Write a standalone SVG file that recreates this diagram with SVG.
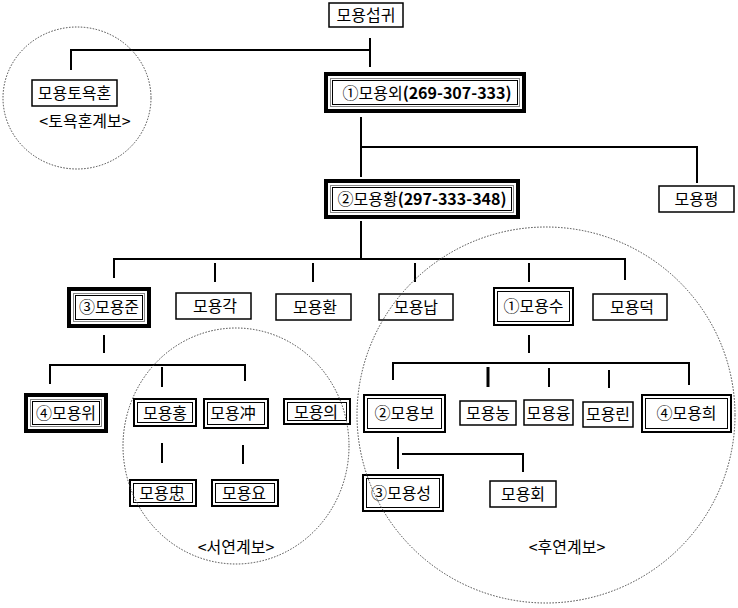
<svg xmlns="http://www.w3.org/2000/svg" width="738" height="608" viewBox="0 0 738 608">
<style>
.t{font-family:"Noto Sans CJK KR","Liberation Sans",sans-serif;font-size:16px;text-anchor:middle;fill:#000}
.bd{font-weight:bold}
.s{fill:#fff;stroke:#000;stroke-width:1.5}
.o4{fill:#fff;stroke:#000;stroke-width:4}
.o2{fill:#fff;stroke:#000;stroke-width:2}
.ig{fill:none;stroke:#888;stroke-width:1}
.ib{fill:none;stroke:#000;stroke-width:1}
.c{fill:none;stroke:#000;stroke-width:2}
.d{fill:none;stroke:#444;stroke-width:1;stroke-dasharray:1.5 1.5}
</style>
<g id="connectors" class="c">
<path d="M370 38V67M71 70V50H370"/>
<path d="M361 117V177M361 147H697V183"/>
<path d="M361 221V259M114 278V259H625V280"/>
<path d="M215 263V282M313 263V282M415 263V282M529 263V282"/>
<path d="M104 335V353M50 384V365H245V381M162 367V387"/>
<path d="M529 335V353M393 380V363H689V385M549 368V387M609 370V388"/>
<path d="M488 367V387" stroke-width="3"/>
<path d="M398 437V469M402 454H523V472"/>
<path d="M162 443V463M243 445V464"/>
</g>
<g id="n-seopgwi"><rect class="s" x="329" y="3" width="74" height="24"/><text class="t" x="366" y="21">모용섭귀</text></g>
<g id="n-toyokhon"><rect class="s" x="32" y="80" width="85" height="26"/><text class="t" x="74.5" y="99">모용토욕혼</text><text class="t" x="85" y="127">&lt;토욕혼계보&gt;</text></g>
<g id="n-oe"><rect class="o4" x="326" y="74" width="198" height="37"/><rect class="ig" x="330.5" y="78.5" width="189" height="28"/><rect class="ib" x="332.5" y="80.5" width="185" height="24"/><text class="t" x="427" y="99"><tspan>①모용외</tspan><tspan class="bd">(269-307-333)</tspan></text></g>
<g id="n-pyeong"><rect class="s" x="659" y="186" width="75" height="26"/><text class="t" x="696.5" y="205">모용평</text></g>
<g id="n-hwang"><rect class="o4" x="326" y="181" width="192" height="36"/><rect class="ig" x="330.5" y="185.5" width="183" height="27"/><rect class="ib" x="332.5" y="187.5" width="179" height="23"/><text class="t" x="422" y="205"><tspan>②모용황</tspan><tspan class="bd">(297-333-348)</tspan></text></g>
<g id="n-jun"><rect class="o4" x="69" y="289" width="80" height="37"/><rect class="ig" x="73.5" y="293.5" width="71" height="28"/><rect class="ib" x="75.5" y="295.5" width="67" height="24"/><text class="t" x="109" y="313">③모용준</text></g>
<g id="n-gak"><rect class="s" x="176" y="293" width="75" height="26"/><text class="t" x="215" y="312">모용각</text></g>
<g id="n-hwan"><rect class="s" x="276" y="294" width="75" height="26"/><text class="t" x="315" y="313">모용환</text></g>
<g id="n-nap"><rect class="s" x="379" y="294" width="74" height="26"/><text class="t" x="416" y="313">모용납</text></g>
<g id="n-su"><rect class="o2" x="494" y="288" width="79" height="37"/><rect class="ib" x="497.5" y="291.5" width="72" height="30"/><text class="t" x="533.5" y="312">①모용수</text></g>
<g id="n-deok"><rect class="s" x="593" y="294" width="74" height="26"/><text class="t" x="632" y="313">모용덕</text></g>
<g id="n-wi"><rect class="o4" x="26" y="395" width="80" height="36"/><rect class="ig" x="30.5" y="399.5" width="71" height="27"/><rect class="ib" x="32.5" y="401.5" width="67" height="23"/><text class="t" x="66" y="419">④모용위</text></g>
<g id="n-hong"><rect class="o2" x="134" y="399" width="62" height="27"/><rect class="ib" x="137.5" y="402.5" width="55" height="20"/><text class="t" x="165" y="419">모용홍</text></g>
<g id="n-chung"><rect class="o2" x="204" y="399" width="64" height="29"/><rect class="ib" x="207.5" y="402.5" width="57" height="22"/><text class="t" x="233" y="419">모용冲</text></g>
<g id="n-ui"><rect class="o2" x="284" y="399" width="66" height="25"/><rect class="ib" x="287.5" y="402.5" width="59" height="18"/><text class="t" x="316" y="418">모용의</text></g>
<g id="n-bo"><rect class="o2" x="364" y="395" width="81" height="37"/><rect class="ib" x="367.5" y="398.5" width="74" height="30"/><text class="t" x="404.5" y="419">②모용보</text></g>
<g id="n-nong"><rect class="s" x="460" y="401" width="56" height="24"/><text class="t" x="488" y="419">모용농</text></g>
<g id="n-yung"><rect class="s" x="524" y="400" width="49" height="25"/><text class="t" x="548.5" y="419">모용융</text></g>
<g id="n-rin"><rect class="s" x="583" y="402" width="50" height="25"/><text class="t" x="608" y="420">모용린</text></g>
<g id="n-hui"><rect class="o2" x="642" y="395" width="89" height="37"/><rect class="ib" x="645.5" y="398.5" width="82" height="30"/><text class="t" x="686.5" y="419">④모용희</text></g>
<g id="n-seong"><rect class="o2" x="363" y="475" width="80" height="36"/><rect class="ib" x="366.5" y="478.5" width="73" height="29"/><text class="t" x="401" y="499">③모용성</text></g>
<g id="n-hoe"><rect class="s" x="490" y="481" width="66" height="26"/><text class="t" x="523" y="500">모용회</text></g>
<g id="n-chung2"><rect class="o2" x="130" y="480" width="66" height="26"/><rect class="ib" x="133.5" y="483.5" width="59" height="19"/><text class="t" x="162" y="499">모용忠</text></g>
<g id="n-yo"><rect class="o2" x="212" y="480" width="66" height="26"/><rect class="ib" x="215.5" y="483.5" width="59" height="19"/><text class="t" x="244" y="499">모용요</text></g>
<g id="labels"><text class="t" x="236" y="553">&lt;서연계보&gt;</text><text class="t" x="567" y="553">&lt;후연계보&gt;</text></g>
<g id="groups">
<ellipse class="d" cx="77" cy="98" rx="74" ry="71"/>
<ellipse class="d" cx="236" cy="446" rx="113" ry="118"/>
<ellipse class="d" cx="546" cy="415" rx="189" ry="188"/>
</g>
</svg>
